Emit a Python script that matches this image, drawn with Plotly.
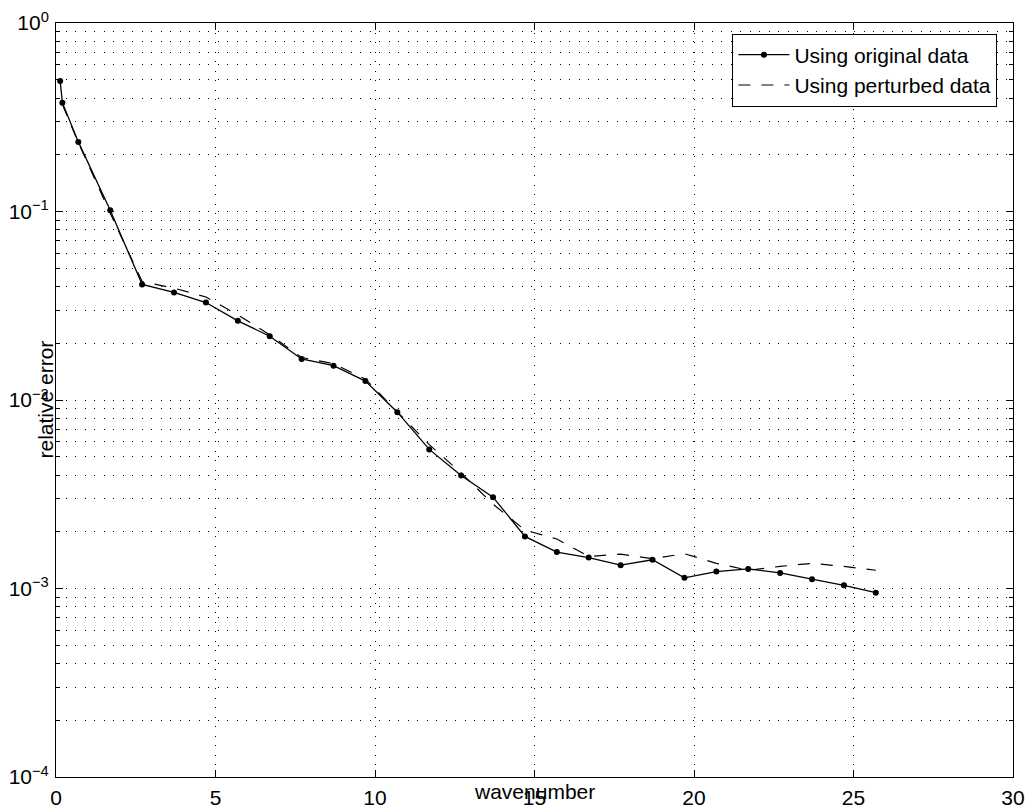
import plotly.graph_objects as go

# Relative error versus wavenumber
wavenumber_orig = [0.13, 0.2, 0.7, 1.7, 2.7, 3.7, 4.7, 5.7, 6.7, 7.7, 8.7, 9.7, 10.7, 11.7,
                   12.7, 13.7, 14.7, 15.7, 16.7, 17.7, 18.7, 19.7, 20.7, 21.7, 22.7, 23.7,
                   24.7, 25.7]
error_orig = [0.493, 0.378, 0.234, 0.1016, 0.0410, 0.0372, 0.0329, 0.0263, 0.0218, 0.0165,
              0.0152, 0.0126, 0.00862, 0.00547, 0.00398, 0.00305, 0.00189, 0.00156, 0.00146,
              0.00133, 0.00142, 0.00114, 0.00123, 0.00127, 0.00121, 0.00112, 0.00104, 0.00095]

wavenumber_pert = [0.2, 0.7, 1.7, 2.7, 3.7, 4.7, 5.7, 6.7, 7.7, 8.7, 9.7, 10.7, 11.7, 12.7,
                   13.7, 14.7, 15.7, 16.7, 17.7, 18.7, 19.7, 20.7, 21.7, 22.7, 23.7, 24.7, 25.7]
error_pert = [0.37, 0.232, 0.098, 0.0425, 0.0392, 0.0352, 0.0283, 0.0222, 0.0168, 0.0156,
              0.0129, 0.0086, 0.0058, 0.0041, 0.0028, 0.00204, 0.00183, 0.00148, 0.00152,
              0.00144, 0.00153, 0.00136, 0.00125, 0.00131, 0.00136, 0.00131, 0.00125]

x_ticks = [0, 5, 10, 15, 20, 25, 30]
y_decades = [1e-4, 1e-3, 1e-2, 1e-1, 1e0]
y_ticktext = ["10<sup>−4</sup>", "10<sup>−3</sup>", "10<sup>−2</sup>",
              "10<sup>−1</sup>", "10<sup>0</sup>"]
y_minor = [m * 10.0 ** e for e in range(-4, 0) for m in range(2, 10)]

FONT = "Liberation Sans, Arial, Helvetica, sans-serif"
GRID_DASH = "1px,8.5px"

fig = go.Figure()
fig.add_trace(go.Scatter(
    x=wavenumber_orig, y=error_orig, mode="lines+markers",
    name="Using original data",
    line=dict(color="black", width=1.3),
    marker=dict(color="black", size=6, symbol="circle"),
))
fig.add_trace(go.Scatter(
    x=wavenumber_pert, y=error_pert, mode="lines",
    name="Using perturbed data",
    line=dict(color="black", width=1.2, dash="12px,11px"),
))

fig.update_layout(
    width=1036, height=812,
    margin=dict(l=56, r=22.5, t=23, b=35, autoexpand=False),
    paper_bgcolor="white", plot_bgcolor="white",
    font=dict(family=FONT, size=21, color="black"),
    showlegend=True,
    legend=dict(
        x=0.7068, y=0.986, xanchor="left", yanchor="top",
        bgcolor="white", bordercolor="black", borderwidth=1,
        font=dict(family=FONT, size=21, color="black"),
        tracegroupgap=0, itemwidth=51,
    ),
    xaxis=dict(
        range=[0, 30], tickvals=x_ticks, ticks="inside", ticklen=7,
        tickcolor="black", showline=True, linecolor="black", linewidth=1,
        mirror="ticks", showgrid=True, gridcolor="black", gridwidth=1,
        griddash=GRID_DASH, zeroline=False, ticklabelstandoff=2, automargin=False,
        tickfont=dict(family=FONT, size=21, color="black"),
    ),
    yaxis=dict(
        type="log", range=[-4, 0], tickvals=y_decades, ticktext=y_ticktext,
        ticks="inside", ticklen=7, tickcolor="black",
        showline=True, linecolor="black", linewidth=1, mirror="ticks",
        showgrid=True, gridcolor="black", gridwidth=1, griddash=GRID_DASH,
        zeroline=False, ticklabelstandoff=2, automargin=False,
        tickfont=dict(family=FONT, size=21, color="black"),
        minor=dict(tickvals=y_minor, ticks="inside", ticklen=4, tickcolor="black",
                   showgrid=True, gridcolor="black", gridwidth=1, griddash=GRID_DASH),
    ),
    annotations=[
        dict(text="wavenumber", xref="paper", yref="paper", x=0.5, y=-0.019,
             xanchor="center", yanchor="middle", showarrow=False,
             font=dict(family=FONT, size=21, color="black")),
        dict(text="relative error", xref="paper", yref="paper", x=-0.012, y=0.5,
             xanchor="center", yanchor="middle", textangle=-90, showarrow=False,
             font=dict(family=FONT, size=21, color="black")),
    ],
)

fig.write_html("out.html")
